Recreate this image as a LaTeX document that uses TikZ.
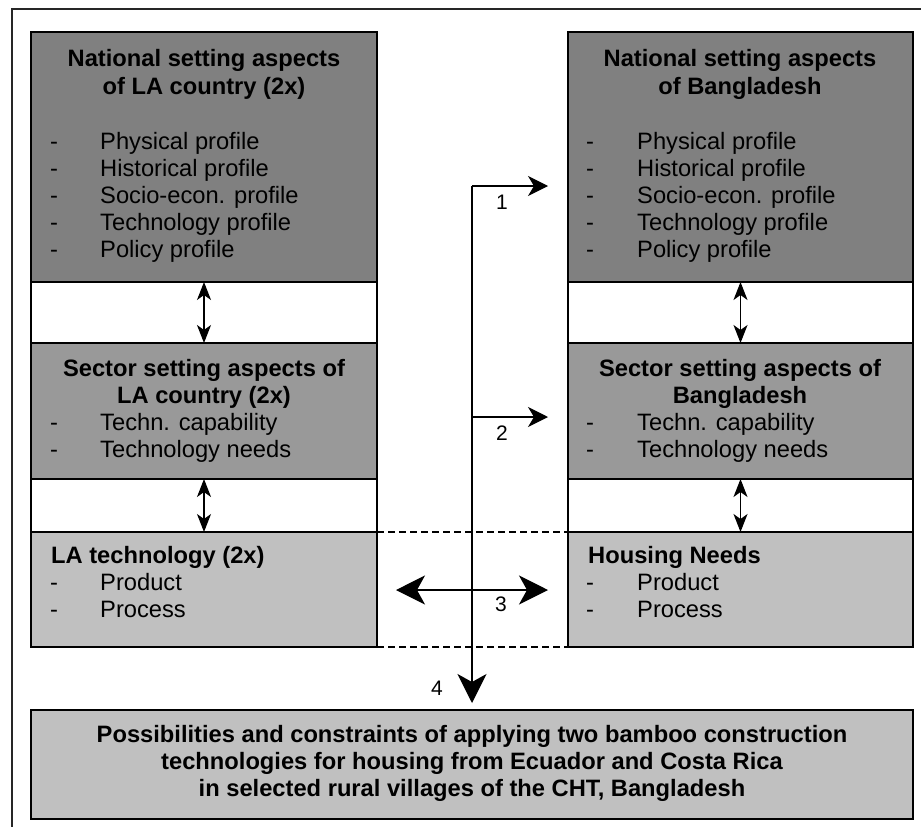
\documentclass[tikz,border=0pt]{standalone}
\usepackage{fontspec}
\setmainfont{Liberation Sans}
\usetikzlibrary{arrows.meta}
\definecolor{gdark}{RGB}{128,128,128}
\definecolor{gmid}{RGB}{153,153,153}
\definecolor{glight}{RGB}{192,192,192}
\begin{document}
\begin{tikzpicture}[x=1pt,y=-1pt,
  box/.style={draw=black,line width=1.4pt,anchor=north west,inner sep=0pt,outer sep=0pt},
  body/.style={font=\fontsize{23.7}{27}\selectfont,inner sep=0pt,anchor=base west},
  dashmark/.style={font=\fontsize{23.7}{27}\selectfont,inner sep=0pt,anchor=base},
  ttl/.style={font=\bfseries\fontsize{23.7}{27}\selectfont,inner sep=0pt,anchor=base},
  ttlw/.style={font=\bfseries\fontsize{23.7}{27}\selectfont,inner sep=0pt,anchor=base west},
  lbl/.style={font=\fontsize{21}{24}\selectfont,inner sep=0pt,anchor=base},
  conn/.style={line width=1.3pt},
  smallhead/.style={conn,{Stealth[length=18pt,width=14pt,inset=5pt]}-{Stealth[length=18pt,width=14pt,inset=5pt]}},
  midhead/.style={conn,-{Stealth[length=20pt,width=20pt,inset=6pt]}},
  bighead/.style={conn,-{Stealth[length=29pt,width=29pt,inset=8pt]}},
  bigdouble/.style={conn,{Stealth[length=29pt,width=29pt,inset=8pt]}-{Stealth[length=29pt,width=29pt,inset=8pt]}},
  dashline/.style={line width=1.4pt,dash pattern=on 7pt off 4pt}]
\useasboundingbox (0,0) rectangle (921,827);
% outer frame
\draw[line width=1.3pt,black!85] (12,827) -- (12,9) -- (921,9);
% left column
\node[box,fill=gdark,minimum width=346pt,minimum height=250pt] (natL) at (31,32) {};
\node[box,fill=white,minimum width=346pt,minimum height=61pt] (gapLa) at (31,282) {};
\node[box,fill=gmid,minimum width=346pt,minimum height=136pt] (secL) at (31,343) {};
\node[box,fill=white,minimum width=346pt,minimum height=53pt] (gapLb) at (31,479) {};
\node[box,fill=glight,minimum width=346pt,minimum height=115pt] (techL) at (31,532) {};
% right column
\node[box,fill=gdark,minimum width=345pt,minimum height=250pt] (natR) at (568,32) {};
\node[box,fill=white,minimum width=345pt,minimum height=61pt] (gapRa) at (568,282) {};
\node[box,fill=gmid,minimum width=345pt,minimum height=136pt] (secR) at (568,343) {};
\node[box,fill=white,minimum width=345pt,minimum height=53pt] (gapRb) at (568,479) {};
\node[box,fill=glight,minimum width=345pt,minimum height=115pt] (needR) at (568,532) {};
% bottom box
\node[box,fill=glight,minimum width=882pt,minimum height=109pt] (result) at (31,710) {};
% dashed links
\draw[dashline] (techL.north east) -- (needR.north west);
\draw[dashline] (techL.south east) -- (needR.south west);
% texts left
\node[ttl] (tNL1) at (204,66) {National setting aspects};
\node[ttl] (tNL2) at (204,94) {of LA country (2x)};
\foreach \t [count=\i] in {Physical profile,Historical profile,Socio-econ. profile,Technology profile,Policy profile}{
  \node[dashmark] (dNL\i) at (54,{149+27.2*(\i-1)}) {-};
  \node[body] (iNL\i) at (100,{149+27.2*(\i-1)}) {\t};
  \node[dashmark] (dNR\i) at (590,{149+27.2*(\i-1)}) {-};
  \node[body] (iNR\i) at (637,{149+27.2*(\i-1)}) {\t};
}
\node[ttl] (tSL1) at (204,376) {Sector setting aspects of};
\node[ttl] (tSL2) at (204,403) {LA country (2x)};
\node[ttl] (tNR1) at (740,66) {National setting aspects};
\node[ttl] (tNR2) at (740,94) {of Bangladesh};
\node[ttl] (tSR1) at (740,376) {Sector setting aspects of};
\node[ttl] (tSR2) at (740,403) {Bangladesh};
\foreach \t [count=\i] in {Techn. capability,Technology needs}{
  \node[dashmark] (dSL\i) at (54,{430+27*(\i-1)}) {-};
  \node[body] (iSL\i) at (100,{430+27*(\i-1)}) {\t};
  \node[dashmark] (dSR\i) at (590,{430+27*(\i-1)}) {-};
  \node[body] (iSR\i) at (637,{430+27*(\i-1)}) {\t};
}
\node[ttlw] (tTL) at (51,563) {LA technology (2x)};
\node[ttlw] (tHR) at (588,563) {Housing Needs};
\foreach \t [count=\i] in {Product,Process}{
  \node[dashmark] (dTL\i) at (54,{590+27*(\i-1)}) {-};
  \node[body] (iTL\i) at (100,{590+27*(\i-1)}) {\t};
  \node[dashmark] (dHR\i) at (590,{590+27*(\i-1)}) {-};
  \node[body] (iHR\i) at (637,{590+27*(\i-1)}) {\t};
}
\node[ttl] (r1) at (472,742) {Possibilities and constraints of applying two bamboo construction};
\node[ttl] (r2) at (472,769) {technologies for housing from Ecuador and Costa Rica};
\node[ttl] (r3) at (472,796) {in selected rural villages of the CHT, Bangladesh};
% vertical double arrows
\draw[smallhead] (natL.south) -- (secL.north);
\draw[smallhead] (secL.south) -- (techL.north);
\draw[smallhead] (natR.south) -- (secR.north);
\draw[smallhead] (secR.south) -- (needR.north);
% central connectors
\coordinate (c1) at (472,186);
\coordinate (e1) at (548,186);
\coordinate (c2) at (472,417);
\coordinate (e2) at (548,417);
\coordinate (a3l) at (396,590);
\coordinate (a3r) at (548,590);
\coordinate (e4) at (472,703);
\draw[conn] (c1) -- (c2);
\draw[bighead] (c2) -- (e4);
\draw[midhead] (c1) -- (e1);
\draw[midhead] (c2) -- (e2);
\draw[bigdouble] (a3l) -- (a3r);
\node[lbl] (l1) at (502,209) {1};
\node[lbl] (l2) at (502,440) {2};
\node[lbl] (l3) at (501,611) {3};
\node[lbl] (l4) at (437,695) {4};
\end{tikzpicture}
\end{document}
